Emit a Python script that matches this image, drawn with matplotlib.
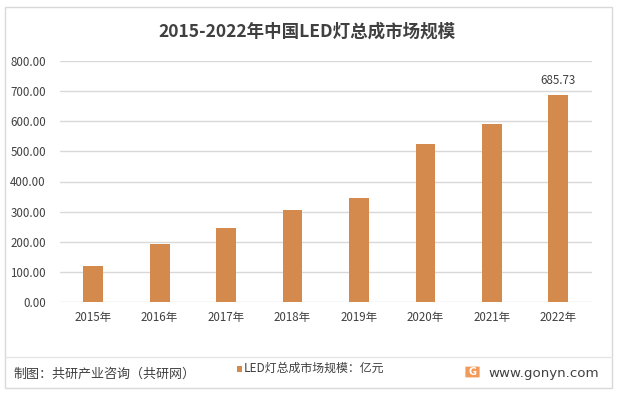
import matplotlib
matplotlib.use("Agg")
import matplotlib.pyplot as plt
from matplotlib.patches import Rectangle, FancyBboxPatch
from matplotlib.lines import Line2D

plt.rcParams['font.family'] = ['Noto Sans CJK SC', 'DejaVu Sans']

categories = ['2015年', '2016年', '2017年', '2018年', '2019年', '2020年', '2021年', '2022年']
values = [121, 192, 245, 307, 346, 524, 590, 685.73]
yticks = [0, 100, 200, 300, 400, 500, 600, 700, 800]
title = '2015-2022年中国LED灯总成市场规模'
legend_label = 'LED灯总成市场规模：亿元'
source = '制图：共研产业咨询（共研网）'
site = 'www.gonyn.com'

bar_color = '#D38A4C'
text_color = '#404040'

W, H = 617, 393
fig = plt.figure(figsize=(W / 100, H / 100), dpi=100)
fig.patch.set_facecolor('white')

# outer border
fig.add_artist(Rectangle((5 / W, 5.5 / H), 607 / W, 381 / H, transform=fig.transFigure,
                         fill=False, edgecolor='#D9D9D9', linewidth=1))
# footer separator
fig.add_artist(Line2D([5 / W, 612 / W], [1 - 357.3 / H, 1 - 357.3 / H], transform=fig.transFigure,
                      color='#E6E6E6', linewidth=1))

ax = fig.add_axes([59.8 / W, 1 - 302.3 / H, (591.7 - 59.8) / W, (302.3 - 60.7) / H])
x = list(range(len(categories)))
ax.bar(x, values, width=0.3, color=bar_color, zorder=3)
ax.set_xlim(-0.5, len(categories) - 0.5)
ax.set_ylim(0, 800)
ax.set_yticks(yticks)
ax.set_yticklabels([f'{v:.2f}' for v in yticks], fontsize=8.3, color=text_color)
ax.set_xticks(x)
ax.set_xticklabels(categories, fontsize=8.3, color=text_color)
ax.tick_params(axis='both', length=0)
ax.tick_params(axis='y', pad=10)
ax.tick_params(axis='x', pad=6)
ax.grid(axis='y', color='#D9D9D9', linewidth=1, zorder=0)
for s in ax.spines.values():
    s.set_visible(False)
ax.annotate(f'{values[-1]:.2f}', (x[-1], values[-1]), xytext=(0, 6), textcoords='offset points',
            ha='center', va='bottom', fontsize=8.3, color=text_color)

fig.text(306.5 / W, 1 - 31.5 / H, title, ha='center', va='center', fontsize=12.6,
         fontweight='bold', color=text_color)

# legend
fig.add_artist(Rectangle((236.7 / W, 1 - 372.3 / H), 5.5 / W, 6.6 / H, transform=fig.transFigure,
                         facecolor=bar_color, edgecolor='none'))
fig.text(244 / W, 1 - 368.5 / H, legend_label, ha='left', va='center', fontsize=8.55, color=text_color)

fig.text(13 / W, 1 - 374 / H, source, ha='left', va='center', fontsize=9.4, color=text_color)
fig.text(488 / W, 1 - 373 / H, site, ha='left', va='center', fontsize=9.6, color=text_color,
         family=['DejaVu Sans'])
# logo
fig.add_artist(FancyBboxPatch((466 / W, 1 - 377 / H), 13 / W, 10 / H, transform=fig.transFigure,
                              boxstyle='round,pad=0.001', facecolor='#F29A5A', edgecolor='none'))
fig.text(472.5 / W, 1 - 372 / H, 'G', ha='center', va='center', fontsize=7, color='white',
         fontweight='bold', family=['DejaVu Sans'])

fig.savefig('out.png', dpi=100, facecolor='white')
